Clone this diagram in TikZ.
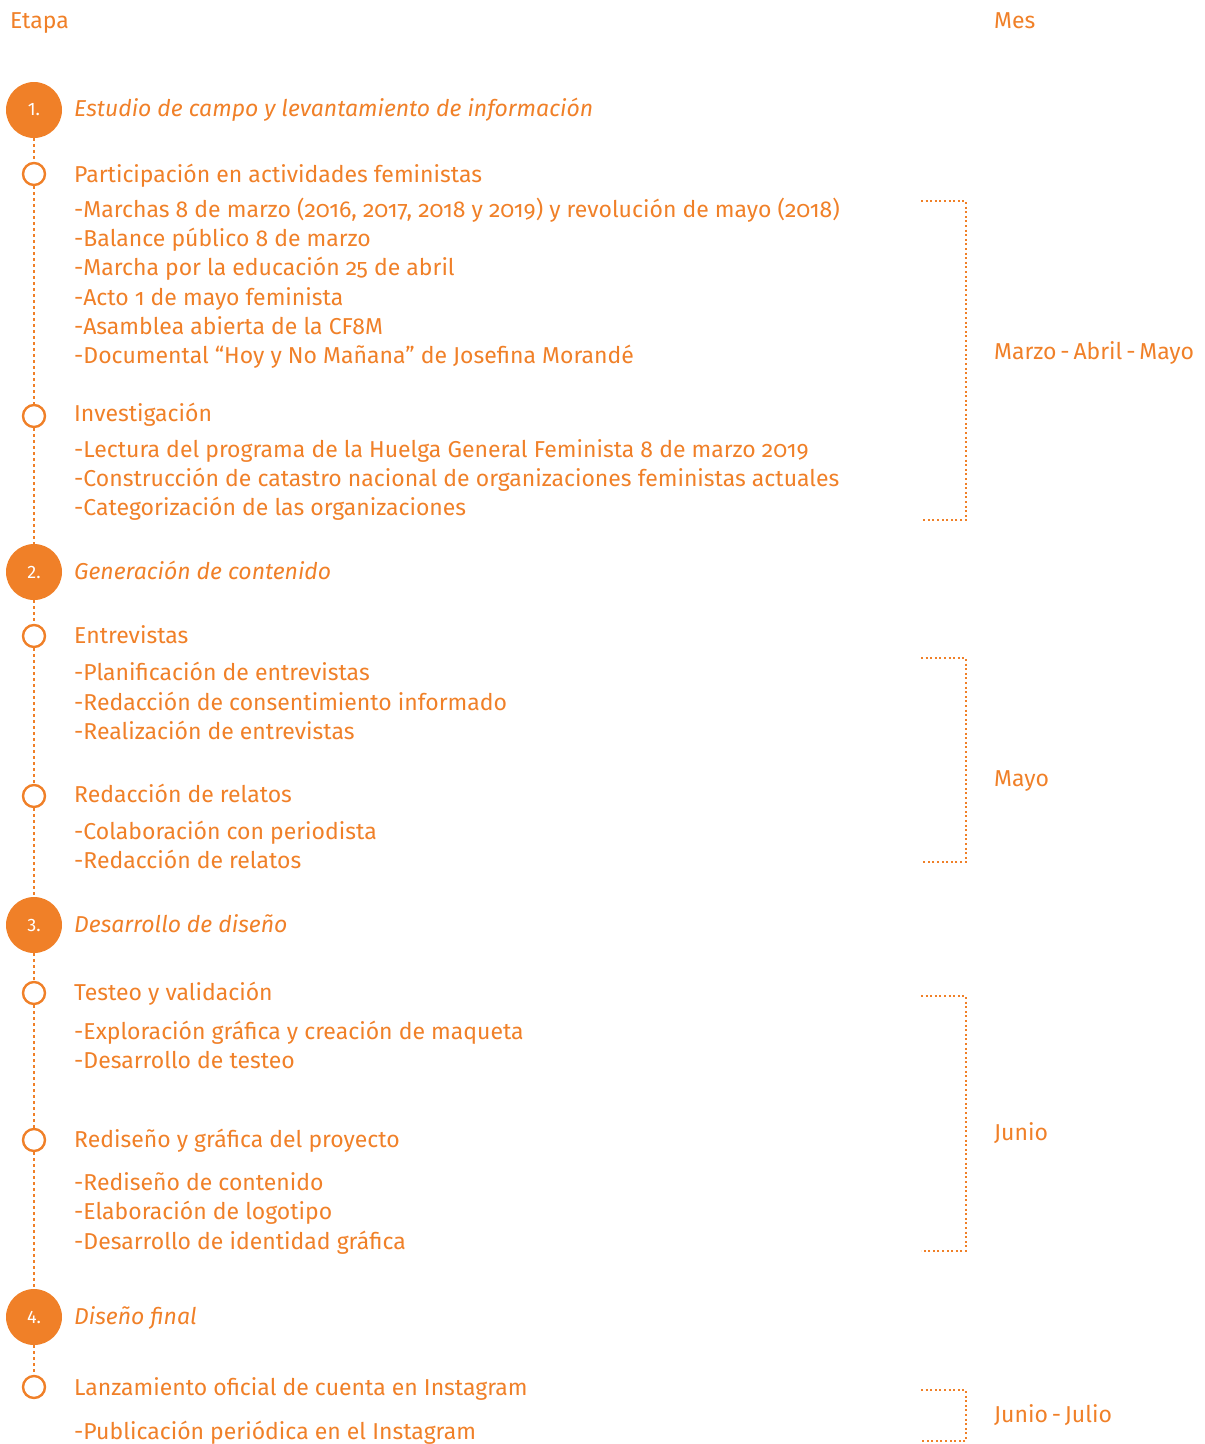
\documentclass[tikz,border=0pt]{standalone}
\usepackage{fontspec}
\setmainfont{Fira Sans}[Numbers=OldStyle]
\newfontfamily\liningfont{Fira Sans}[Numbers=Lining]
\definecolor{naranja}{RGB}{240,128,40}
\begin{document}
\begin{tikzpicture}[x=1pt,y=-1pt,
  txt/.style={anchor=base west,inner sep=0pt,text=naranja,font=\fontsize{23}{27}\selectfont},
  head/.style={txt,font=\fontsize{23}{27}\selectfont\itshape},
  bigdot/.style={circle,fill=naranja,minimum size=56pt,inner sep=0pt,text=white,font=\liningfont\fontsize{18}{20}\selectfont},
  smalldot/.style={circle,draw=naranja,line width=2.4pt,fill=white,minimum size=22pt,inner sep=0pt},
  dotline/.style={draw=naranja,line width=2.4pt,dash pattern=on 2.4pt off 3.6pt},
  brk/.style={draw=naranja,line width=2pt,dash pattern=on 2pt off 2.6pt}]
\useasboundingbox (0,0) rectangle (1205,1444);
% headers
\node[txt] (etapa) at (10,28) {Etapa};
\node[txt] (mes) at (994,28) {Mes};
% big and small circles
\node[bigdot] (s1) at (34,110) {1.};
\node[bigdot] (s2) at (34,572) {2.};
\node[bigdot] (s3) at (34,925) {3.};
\node[bigdot] (s4) at (34,1317) {4.};
\node[smalldot] (c1) at (34,174) {};
\node[smalldot] (c2) at (34,416) {};
\node[smalldot] (c3) at (34,636) {};
\node[smalldot] (c4) at (34,796) {};
\node[smalldot] (c5) at (34,993) {};
\node[smalldot] (c6) at (34,1140) {};
\node[smalldot] (c7) at (34,1387) {};
% connectors
\path[dotline] (s1) -- (c1);
\path[dotline] (c1) -- (c2);
\path[dotline] (c2) -- (s2);
\path[dotline] (s2) -- (c3);
\path[dotline] (c3) -- (c4);
\path[dotline] (c4) -- (s3);
\path[dotline] (s3) -- (c5);
\path[dotline] (c5) -- (c6);
\path[dotline] (c6) -- (s4);
\path[dotline] (s4) -- (c7);
% stage 1
\node[head] (h1) at (74,116) {Estudio de campo y levantamiento de información};
\node[txt] (t1) at (74,182) {Participación en actividades feministas};
\node[txt] (t1a) at (74,217) {-Marchas 8 de marzo (2016, 2017, 2018 y 2019) y revolución de mayo (2018)};
\node[txt] (t1b) at (74,246) {-Balance público 8 de marzo};
\node[txt] (t1c) at (74,275) {-Marcha por la educación 25 de abril};
\node[txt] (t1d) at (74,305) {-Acto 1 de mayo feminista};
\node[txt] (t1e) at (74,334) {-Asamblea abierta de la CF8M};
\node[txt] (t1f) at (74,363) {-Documental “Hoy y No Mañana” de Josefina Morandé};
\node[txt] (t2) at (74,421) {Investigación};
\node[txt] (t2a) at (74,457) {-Lectura del programa de la Huelga General Feminista 8 de marzo 2019};
\node[txt] (t2b) at (74,486) {-Construcción de catastro nacional de organizaciones feministas actuales};
\node[txt] (t2c) at (74,515) {-Categorización de las organizaciones};
% stage 2
\node[head] (h2) at (74,579) {Generación de contenido};
\node[txt] (t3) at (74,643) {Entrevistas};
\node[txt] (t3a) at (74,680) {-Planificación de entrevistas};
\node[txt] (t3b) at (74,710) {-Redacción de consentimiento informado};
\node[txt] (t3c) at (74,739) {-Realización de entrevistas};
\node[txt] (t4) at (74,802) {Redacción de relatos};
\node[txt] (t4a) at (74,839) {-Colaboración con periodista};
\node[txt] (t4b) at (74,868) {-Redacción de relatos};
% stage 3
\node[head] (h3) at (74,932) {Desarrollo de diseño};
\node[txt] (t5) at (74,1000) {Testeo y validación};
\node[txt] (t5a) at (74,1039) {-Exploración gráfica y creación de maqueta};
\node[txt] (t5b) at (74,1068) {-Desarrollo de testeo};
\node[txt] (t6) at (74,1147) {Rediseño y gráfica del proyecto};
\node[txt] (t6a) at (74,1190) {-Rediseño de contenido};
\node[txt] (t6b) at (74,1219) {-Elaboración de logotipo};
\node[txt] (t6c) at (74,1249) {-Desarrollo de identidad gráfica};
% stage 4
\node[head] (h4) at (74,1324) {Diseño final};
\node[txt] (t7) at (74,1395) {Lanzamiento oficial de cuenta en Instagram};
\node[txt] (t7a) at (74,1439) {-Publicación periódica en el Instagram};
% brackets and months
\coordinate (b1a) at (921,201); \coordinate (b1b) at (921,520);
\path[brk] (b1a) -- (966,201) -- (966,520) -- (b1b);
\node[txt] (m1) at (994,359) {Marzo\,-\,Abril\,-\,Mayo};
\coordinate (b2a) at (921,658); \coordinate (b2b) at (921,862);
\path[brk] (b2a) -- (966,658) -- (966,862) -- (b2b);
\node[txt] (m2) at (994,786) {Mayo};
\coordinate (b3a) at (921,996); \coordinate (b3b) at (921,1251);
\path[brk] (b3a) -- (966,996) -- (966,1251) -- (b3b);
\node[txt] (m3) at (994,1140) {Junio};
\coordinate (b4a) at (921,1390); \coordinate (b4b) at (921,1441);
\path[brk] (b4a) -- (966,1390) -- (966,1441) -- (b4b);
\node[txt] (m4) at (994,1422) {Junio\,-\,Julio};
\end{tikzpicture}
\end{document}
